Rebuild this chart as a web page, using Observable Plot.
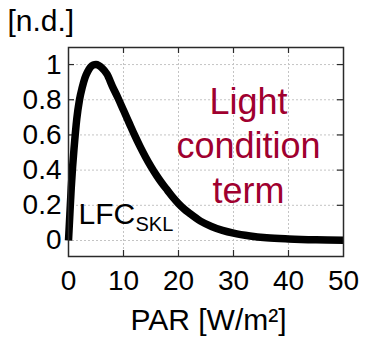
<!DOCTYPE html>
<html>
<head>
<meta charset="utf-8">
<script src="https://cdn.jsdelivr.net/npm/d3@7"></script>
<script src="https://cdn.jsdelivr.net/npm/@observablehq/plot@0.6"></script>
<style>
  html, body { margin: 0; padding: 0; background: #fff; }
</style>
</head>
<body>
<div id="chart"></div>
<script>
// --- data ---
const parValues = [0, 0.25, 0.5, 0.75, 1, 1.5, 2, 2.5, 3, 3.5, 4, 4.5, 5, 5.5, 6, 7, 8, 9, 10, 11, 12, 13, 14, 15, 16, 17, 18, 19, 20, 21, 22, 24, 26, 28, 30, 33, 36, 40, 45, 50];
const lfcValues = [0, 0.15, 0.3, 0.42, 0.52, 0.69, 0.8, 0.87, 0.925, 0.96, 0.985, 0.997, 1.0, 0.995, 0.983, 0.945, 0.875, 0.81, 0.74, 0.67, 0.6, 0.535, 0.475, 0.42, 0.37, 0.325, 0.285, 0.245, 0.21, 0.18, 0.155, 0.11, 0.08, 0.058, 0.042, 0.026, 0.016, 0.009, 0.004, 0.002];
const xTicks = [0, 10, 20, 30, 40, 50];
const yTicks = [0, 0.2, 0.4, 0.6, 0.8, 1];
const innerXTicks = [10, 20, 30, 40];
const innerYTicks = [0.2, 0.4, 0.6, 0.8, 1];
const yTitle = ["[n.d.]"];
const xTitle = ["PAR [W/m\u00B2]"];
const termLabel = ["Light\ncondition\nterm"];
const curveLabel = ["LFC"];
const curveSub = ["SKL"];

const points = parValues.map((x, i) => ({x, y: lfcValues[i]}));

const font = "'Liberation Sans', Arial, Helvetica, sans-serif";
const frameColor = "#2a2a2a";

const chart = Plot.plot({
  width: 370,
  height: 338,
  marginTop: 47,
  marginBottom: 82,
  marginLeft: 68,
  marginRight: 27,
  style: {fontFamily: font, background: "#fff", color: "#000"},
  x: {domain: [0, 50]},
  y: {domain: [-0.091, 1.097]},
  marks: [
    Plot.gridX(innerXTicks, {stroke: "#c4c4c4", strokeOpacity: 1, strokeDasharray: "2,2"}),
    Plot.gridY(yTicks, {stroke: "#c4c4c4", strokeOpacity: 1, strokeDasharray: "2,2"}),
    // inward ticks on all four sides
    Plot.tickX(innerXTicks, {x: d => d, insetTop: 203, stroke: frameColor, strokeWidth: 1.2}),
    Plot.tickX(innerXTicks, {x: d => d, insetBottom: 203, stroke: frameColor, strokeWidth: 1.2}),
    Plot.tickY(innerYTicks, {y: d => d, insetRight: 269, stroke: frameColor, strokeWidth: 1.2}),
    Plot.tickY(innerYTicks, {y: d => d, insetLeft: 269, stroke: frameColor, strokeWidth: 1.2}),
    Plot.axisX(xTicks, {tickSize: 0, tickPadding: 14, fontSize: 28, tickFormat: d => String(d), label: null, fill: "#000"}),
    Plot.axisY(yTicks, {tickSize: 0, tickPadding: 7, fontSize: 28, tickFormat: d => String(d), label: null, fill: "#000"}),
    Plot.line(points, {x: "x", y: "y", stroke: "#000", strokeWidth: 7.5, curve: "monotone-x", strokeLinecap: "butt"}),
    Plot.frame({stroke: frameColor, strokeWidth: 1.5}),
    Plot.text(termLabel, {text: d => d, frameAnchor: "top-left", dx: 180, dy: 155, textAnchor: "middle", lineAnchor: "bottom", lineHeight: 1.236, fontSize: 36, fill: "#a0002f"}),
    Plot.text(curveLabel, {text: d => d, frameAnchor: "top-left", dx: 10, dy: 176, textAnchor: "start", lineAnchor: "bottom", fontSize: 30, fill: "#000"}),
    Plot.text(curveSub, {text: d => d, frameAnchor: "top-left", dx: 67, dy: 183, textAnchor: "start", lineAnchor: "bottom", fontSize: 20, fill: "#000"}),
    Plot.text(yTitle, {text: d => d, frameAnchor: "top-left", dx: -61, dy: -17, textAnchor: "start", lineAnchor: "bottom", fontSize: 30, fill: "#000"}),
    Plot.text(xTitle, {text: d => d, frameAnchor: "bottom", dx: 2.5, dy: 73, textAnchor: "middle", lineAnchor: "bottom", fontSize: 30, fill: "#000"})
  ]
});

document.getElementById("chart").appendChild(chart);
</script>
</body>
</html>
